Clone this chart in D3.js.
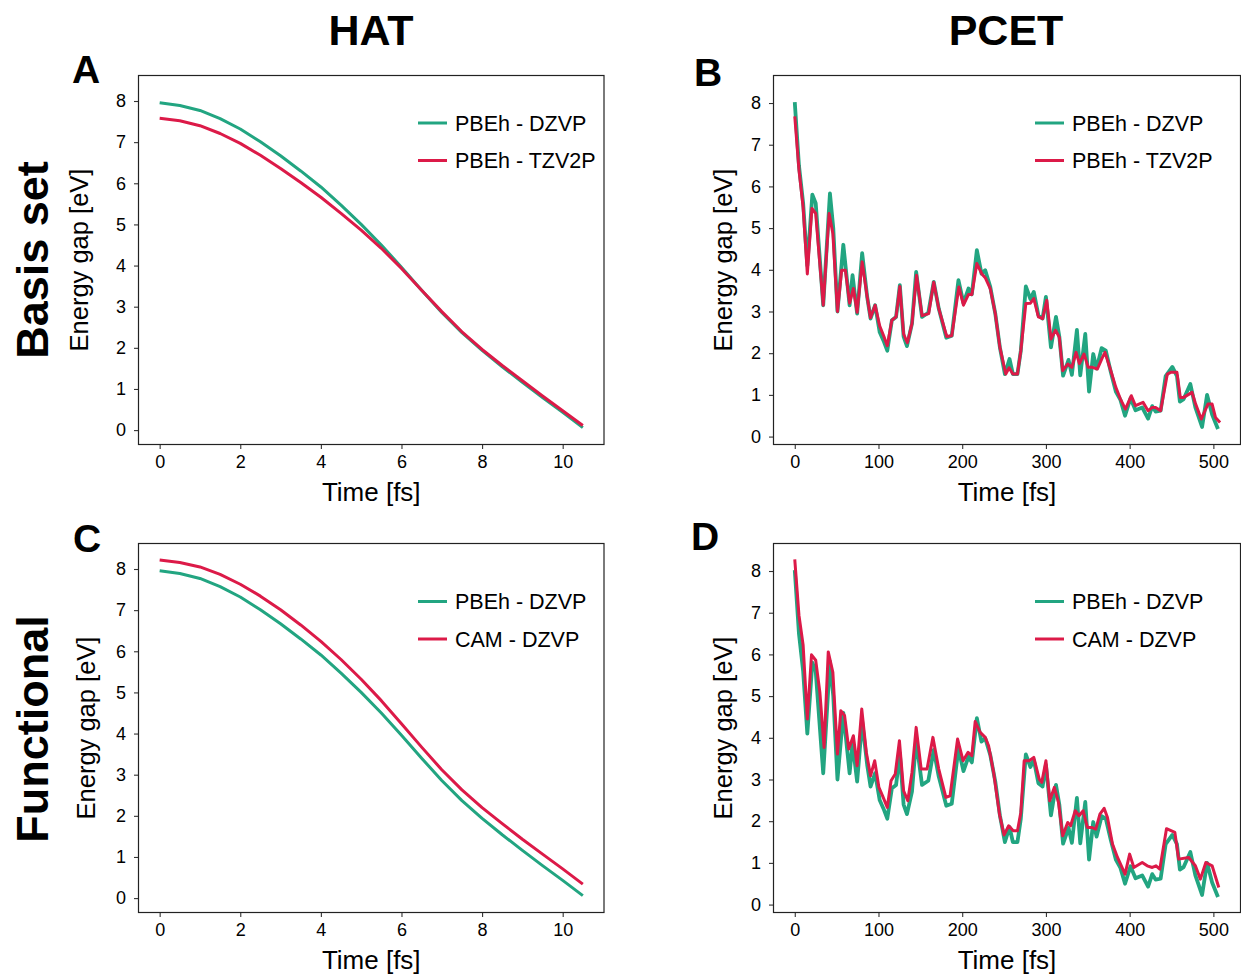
<!DOCTYPE html>
<html>
<head>
<meta charset="utf-8">
<script src="https://cdn.jsdelivr.net/npm/d3@7"></script>
<style>
  body { margin: 0; background: #fff; }
  svg { font-family: "Liberation Sans", Arial, sans-serif; }
</style>
</head>
<body>
<div id="chart"></div>
<script>
// HAT: time grid and gaps
let hatTime = [0, 0.5, 1, 1.5, 2, 2.5, 3, 3.5, 4, 4.5, 5, 5.5, 6, 6.5, 7, 7.5, 8, 8.5, 9, 9.5, 10, 10.5];
let hatPbehDzvp = [7.96, 7.89, 7.77, 7.57, 7.32, 7.01, 6.67, 6.30, 5.91, 5.47, 5.00, 4.50, 3.96, 3.40, 2.86, 2.37, 1.94, 1.54, 1.16, 0.79, 0.43, 0.06];
let hatPbehTzv2p = [7.58, 7.52, 7.40, 7.21, 6.97, 6.68, 6.36, 6.02, 5.66, 5.27, 4.86, 4.42, 3.93, 3.40, 2.88, 2.39, 1.96, 1.57, 1.20, 0.83, 0.47, 0.11];
let hatCamDzvp = [8.22, 8.16, 8.05, 7.87, 7.63, 7.34, 7.01, 6.64, 6.24, 5.80, 5.32, 4.80, 4.24, 3.67, 3.12, 2.63, 2.20, 1.81, 1.43, 1.07, 0.71, 0.34];

// PCET: PBEh - DZVP
let pcetTimeDzvp = [0, 5, 10, 15, 21, 25, 34, 42, 46, 51, 58, 65.5, 69, 74.5, 80.5, 86.5, 90.5, 96, 101.5, 106,
    110.5, 116, 121, 125.5, 130, 134, 140, 145, 152, 159.5, 166, 172, 181, 187.5, 195.5, 201.5, 207.5, 211.5, 217.5, 223,
    227.5, 233.5, 239.5, 245, 251, 256.5, 260.5, 266, 270, 276, 281.5, 285.5, 291, 296, 300, 306, 312, 316, 320.5, 327,
    331, 337, 341, 347, 351.5, 356.5, 360.5, 366.5, 371.5, 377.5, 383.5, 389, 394.5, 401, 407, 415, 422, 427, 431, 437,
    443, 451, 456.5, 460, 464.5, 472.5, 478.5, 486.5, 492.5, 498.5, 505.5];
let pcetGapDzvp = [8.02, 6.5, 5.6, 4.1, 5.8, 5.6, 3.15, 5.83, 5.0, 3.0, 4.6, 3.15, 3.87, 2.95, 4.4, 3.35, 2.83, 3.15, 2.5, 2.3,
    2.06, 2.79, 2.87, 3.63, 2.4, 2.17, 2.71, 3.95, 2.87, 2.97, 3.71, 3.07, 2.37, 2.42, 3.75, 3.2, 3.55, 3.41, 4.47, 3.91,
    3.99, 3.59, 2.95, 2.14, 1.5, 1.86, 1.5, 1.5, 2.06, 3.6, 3.3, 3.47, 2.91, 2.83, 3.35, 2.14, 2.87, 2.4, 1.46, 1.84,
    1.48, 2.56, 1.47, 2.46, 1.08, 1.98, 1.63, 2.12, 2.06, 1.55, 1.08, 0.88, 0.5, 0.92, 0.63, 0.7, 0.43, 0.73, 0.6, 0.62,
    1.45, 1.67, 1.45, 0.84, 0.9, 1.26, 0.7, 0.23, 1.0, 0.53, 0.18];

// PCET: PBEh - TZV2P
let pcetTimeTzv2p = [0, 5, 10, 15, 20.5, 25, 34, 41, 45.5, 51, 56, 60.5, 65.5, 70, 74.5, 80.5, 86.5, 90.5, 96, 101.5,
    106.5, 110.5, 116, 121, 125.5, 130, 134.5, 140, 145.5, 152, 160, 166, 172, 181.5, 187.5, 196, 201.5, 207.5, 211.5, 217.5,
    223.5, 227.5, 233.5, 239.5, 245, 252, 256, 260.5, 266, 270, 276, 281.5, 285.5, 291, 296, 301, 306, 311.5, 316, 320,
    326, 331, 336, 340, 345.5, 350.5, 355.5, 361.5, 367.5, 370.5, 377.5, 383.5, 389, 395, 402, 407, 416, 422, 427, 431,
    437, 445, 449, 456.5, 460.5, 464.5, 474.5, 478.5, 485.5, 493.5, 498.5, 502.5, 508];
let pcetGapTzv2p = [7.68, 6.4, 5.5, 3.9, 5.47, 5.35, 3.15, 5.35, 4.87, 3.0, 3.99, 3.99, 3.2, 3.55, 2.98, 4.19, 3.35, 2.85, 3.15, 2.65,
    2.4, 2.18, 2.79, 2.87, 3.6, 2.46, 2.25, 2.71, 3.87, 2.9, 2.95, 3.7, 3.07, 2.4, 2.42, 3.59, 3.15, 3.41, 3.41, 4.15,
    3.9, 3.81, 3.55, 2.95, 2.14, 1.5, 1.65, 1.5, 1.5, 2.06, 3.19, 3.2, 3.31, 2.87, 2.83, 3.27, 2.34, 2.55, 2.38, 1.58,
    1.74, 1.66, 2.02, 1.75, 1.98, 1.66, 1.66, 1.62, 1.9, 2.02, 1.58, 1.18, 0.9, 0.66, 0.98, 0.74, 0.82, 0.62, 0.7, 0.7,
    0.62, 1.5, 1.54, 1.54, 0.94, 0.94, 1.06, 0.8, 0.42, 0.78, 0.78, 0.46, 0.34];

// PCET: CAM - DZVP
let pcetTimeCam = [0, 5, 10, 15, 20, 25, 30, 35, 40, 45.5, 51, 55, 59.5, 64.5, 70, 74.5, 80, 85.5, 90.5, 95.5,
    100.5, 105, 110.5, 115, 120, 125, 130, 135, 140, 145, 151, 158, 165, 172, 180.5, 185.5, 194.5, 201, 207, 211.5,
    215.5, 221.5, 227.5, 231.5, 237.5, 244.5, 250, 255.5, 261, 266, 270, 274, 280, 285.5, 292, 295, 300, 304.5, 310, 315,
    320, 326, 329.5, 335, 339.5, 344.5, 349.5, 354.5, 359.5, 364.5, 369.5, 373.5, 379.5, 385.5, 394.5, 400, 405, 415, 421, 427,
    431.5, 436, 444, 454, 458.5, 470.5, 478.5, 484.5, 491, 498.5, 506.5];
let pcetGapCam = [8.28, 6.94, 6.22, 4.45, 5.99, 5.86, 5.09, 3.77, 6.06, 5.57, 3.61, 4.65, 4.53, 3.73, 4.05, 3.33, 4.69, 3.65, 3.09, 3.45,
    2.81, 2.6, 2.33, 2.97, 3.13, 3.93, 2.73, 2.49, 3.17, 4.25, 3.25, 3.25, 4.01, 3.25, 2.57, 2.61, 3.97, 3.45, 3.65, 3.57,
    4.39, 4.13, 4.01, 3.81, 3.17, 2.17, 1.67, 1.89, 1.77, 1.77, 2.21, 3.45, 3.45, 3.53, 3.01, 2.93, 3.45, 2.49, 2.81, 2.45,
    1.65, 1.97, 1.89, 2.25, 2.13, 2.25, 1.85, 1.85, 1.81, 2.17, 2.31, 2.09, 1.45, 1.13, 0.73, 1.21, 0.89, 1.01, 0.93, 0.89,
    0.93, 0.85, 1.82, 1.73, 1.09, 1.13, 0.93, 0.61, 1.01, 0.93, 0.41];

let hatTicks = [0, 2, 4, 6, 8, 10];
let pcetTicks = [0, 100, 200, 300, 400, 500];
let gapTicks = [0, 1, 2, 3, 4, 5, 6, 7, 8];

let green = '#22a581';
let red = '#dc1a48';

let width = 1241;
let height = 975;

let svg = d3.select('#chart')
    .append('svg')
        .attr('width', width)
        .attr('height', height);

function zip(t, v) {
    return t.map(function (d, i) {
        return {t: d, v: v[i]};
    });
}

let panels = [
    {letter: 'A', lx: 86, ly: 83, left: 138.5, right: 604, top: 75.5, bottom: 444.5,
        xDomain: [-0.525, 11.025], yDomain: [-0.35, 8.62], ticks: hatTicks, ylabX: 88, legX: 418, legY: 123,
        series: [
            {name: 'PBEh - DZVP', color: green, w: 3, data: zip(hatTime, hatPbehDzvp)},
            {name: 'PBEh - TZV2P', color: red, w: 3, data: zip(hatTime, hatPbehTzv2p)}
        ]},
    {letter: 'B', lx: 708, ly: 86, left: 773.5, right: 1240.5, top: 75.5, bottom: 444.5,
        xDomain: [-25.4, 532.4], yDomain: [-0.19, 8.66], ticks: pcetTicks, ylabX: 732, legX: 1035, legY: 123,
        series: [
            {name: 'PBEh - DZVP', color: green, w: 3.8, data: zip(pcetTimeDzvp, pcetGapDzvp)},
            {name: 'PBEh - TZV2P', color: red, w: 3, data: zip(pcetTimeTzv2p, pcetGapTzv2p)}
        ]},
    {letter: 'C', lx: 87, ly: 552, left: 138.5, right: 604, top: 543.5, bottom: 912.5,
        xDomain: [-0.525, 11.025], yDomain: [-0.35, 8.62], ticks: hatTicks, ylabX: 95, legX: 418, legY: 601.5,
        series: [
            {name: 'PBEh - DZVP', color: green, w: 3, data: zip(hatTime, hatPbehDzvp)},
            {name: 'CAM - DZVP', color: red, w: 3, data: zip(hatTime, hatCamDzvp)}
        ]},
    {letter: 'D', lx: 705, ly: 550, left: 773.5, right: 1240.5, top: 543.5, bottom: 912.5,
        xDomain: [-25.4, 532.4], yDomain: [-0.19, 8.66], ticks: pcetTicks, ylabX: 732, legX: 1035, legY: 601.5,
        series: [
            {name: 'PBEh - DZVP', color: green, w: 3.8, data: zip(pcetTimeDzvp, pcetGapDzvp)},
            {name: 'CAM - DZVP', color: red, w: 3, data: zip(pcetTimeCam, pcetGapCam)}
        ]}
];

panels.forEach(function (p) {
    let x = d3.scaleLinear().domain(p.xDomain).range([p.left, p.right]);
    let y = d3.scaleLinear().domain(p.yDomain).range([p.bottom, p.top]);

    let xAxis = svg.append('g')
        .attr('transform', 'translate(0,' + p.bottom + ')')
        .call(d3.axisBottom(x).tickValues(p.ticks).tickSize(4.5).tickPadding(6));
    let yAxis = svg.append('g')
        .attr('transform', 'translate(' + p.left + ',0)')
        .call(d3.axisLeft(y).tickValues(gapTicks).tickSize(4.5).tickPadding(8));

    [xAxis, yAxis].forEach(function (a) {
        a.select('.domain').remove();
        a.selectAll('line').attr('stroke', '#333').attr('stroke-width', 1.1);
        a.selectAll('text')
            .attr('font-size', '18px')
            .attr('fill', '#000')
            .attr('font-family', '"Liberation Sans", Arial, sans-serif');
    });

    let clipId = 'clip' + p.letter;
    svg.append('clipPath').attr('id', clipId)
        .append('rect')
            .attr('x', p.left).attr('y', p.top)
            .attr('width', p.right - p.left).attr('height', p.bottom - p.top);

    let line = d3.line()
        .x(function (d) { return x(d.t); })
        .y(function (d) { return y(d.v); });

    p.series.forEach(function (s) {
        svg.append('path')
            .datum(s.data)
            .attr('clip-path', 'url(#' + clipId + ')')
            .attr('fill', 'none')
            .attr('stroke', s.color)
            .attr('stroke-width', s.w)
            .attr('stroke-linejoin', 'round')
            .attr('d', line);
    });

    // frame
    svg.append('rect')
        .attr('x', p.left).attr('y', p.top)
        .attr('width', p.right - p.left).attr('height', p.bottom - p.top)
        .attr('fill', 'none')
        .attr('stroke', '#222')
        .attr('stroke-width', 1.2);

    // legend
    p.series.forEach(function (s, i) {
        let ly = p.legY + i * 37.5;
        svg.append('line')
            .attr('x1', p.legX).attr('x2', p.legX + 29)
            .attr('y1', ly).attr('y2', ly)
            .attr('stroke', s.color)
            .attr('stroke-width', 3);
        svg.append('text')
            .attr('x', p.legX + 37)
            .attr('y', ly + 7.5)
            .attr('font-size', '21.5px')
            .text(s.name);
    });

    // axis labels
    svg.append('text')
        .attr('x', (p.left + p.right) / 2)
        .attr('y', p.bottom + 56)
        .attr('text-anchor', 'middle')
        .attr('font-size', '26px')
        .text('Time [fs]');

    svg.append('text')
        .attr('transform', 'translate(' + p.ylabX + ',' + (p.top + p.bottom) / 2 + ') rotate(-90)')
        .attr('text-anchor', 'middle')
        .attr('font-size', '25.5px')
        .text('Energy gap [eV]');

    // panel letter
    svg.append('text')
        .attr('x', p.lx)
        .attr('y', p.ly)
        .attr('text-anchor', 'middle')
        .attr('font-size', '39px')
        .attr('font-weight', 'bold')
        .text(p.letter);
});

// column titles
svg.append('text')
    .attr('x', 371).attr('y', 45)
    .attr('text-anchor', 'middle')
    .attr('font-size', '43px')
    .attr('font-weight', 'bold')
    .text('HAT');
svg.append('text')
    .attr('x', 1006).attr('y', 45)
    .attr('text-anchor', 'middle')
    .attr('font-size', '43px')
    .attr('font-weight', 'bold')
    .text('PCET');

// row titles
svg.append('text')
    .attr('transform', 'translate(48,260) rotate(-90)')
    .attr('text-anchor', 'middle')
    .attr('font-size', '45px')
    .attr('font-weight', 'bold')
    .text('Basis set');
svg.append('text')
    .attr('transform', 'translate(48,729) rotate(-90)')
    .attr('text-anchor', 'middle')
    .attr('font-size', '45px')
    .attr('font-weight', 'bold')
    .text('Functional');
</script>
</body>
</html>
